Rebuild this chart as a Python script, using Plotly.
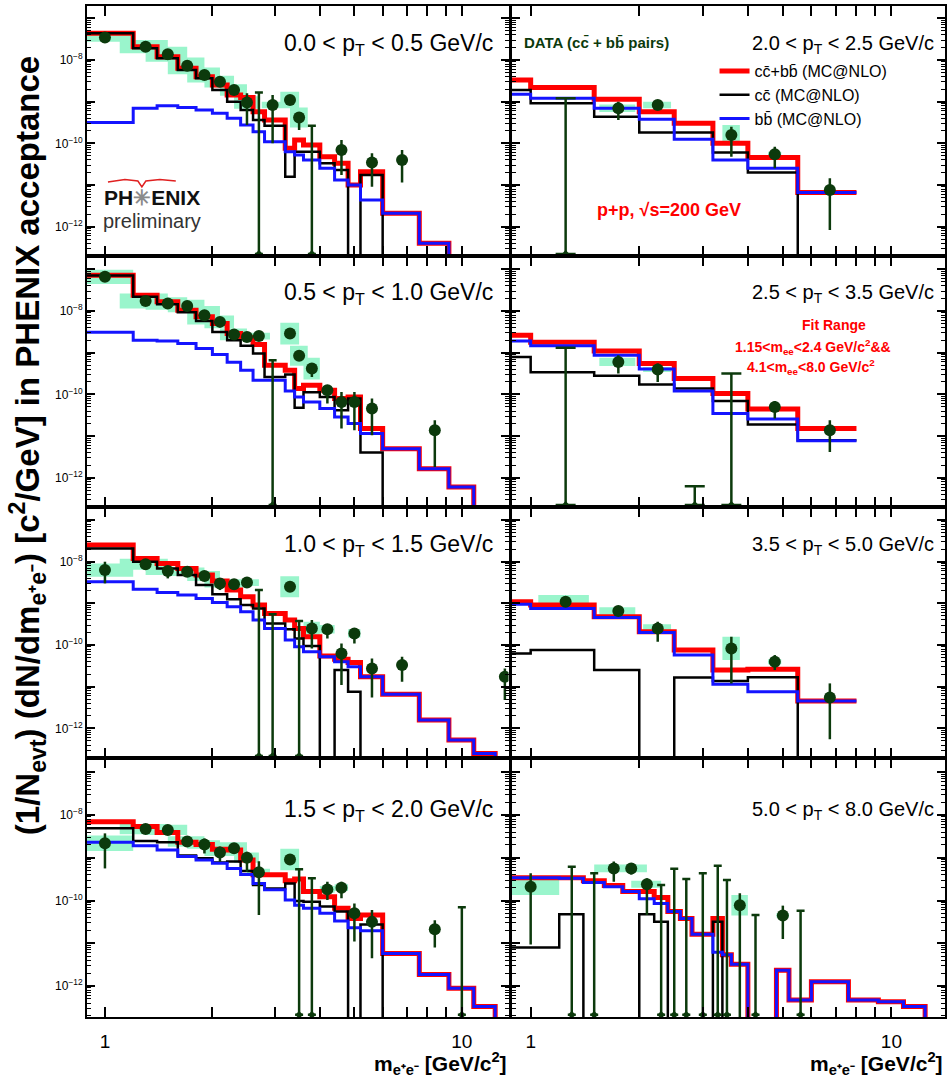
import plotly.graph_objects as go

# ---------------------------------------------------------------------------
# DATA  (all yields are given as log10 of the value)
# ---------------------------------------------------------------------------
fine_edges = [0.8, 1.2, 1.4, 1.6, 1.8, 2.0, 2.2, 2.4, 2.6, 2.8, 3.0, 3.2, 3.4, 3.6,
              4.0, 4.4, 4.8, 5.2, 6.0, 7.6, 9.2, 10.8, 12.4, 14.0]
coarse_edges = [0.8, 1.0, 1.5, 2.0, 2.5, 3.2, 4.0, 5.5, 8.0]
EMPTY = -14  # empty bin (drawn below the axis floor)

pt_labels = ["0.0 &lt; p<sub>T</sub> &lt; 0.5 GeV/c", "2.0 &lt; p<sub>T</sub> &lt; 2.5 GeV/c",
             "0.5 &lt; p<sub>T</sub> &lt; 1.0 GeV/c", "2.5 &lt; p<sub>T</sub> &lt; 3.5 GeV/c",
             "1.0 &lt; p<sub>T</sub> &lt; 1.5 GeV/c", "3.5 &lt; p<sub>T</sub> &lt; 5.0 GeV/c",
             "1.5 &lt; p<sub>T</sub> &lt; 2.0 GeV/c", "5.0 &lt; p<sub>T</sub> &lt; 8.0 GeV/c"]

legend_names = ["cc\u0304+bb\u0304 (MC@NLO)", "cc\u0304 (MC@NLO)", "bb\u0304 (MC@NLO)"]

y_tick_exp = [-13, -12, -11, -10, -9, -8, -7]
y_tick_text = ["", "10<sup>\u221212</sup>", "", "10<sup>\u221210</sup>", "", "10<sup>\u22128</sup>", ""]

# ---- 0.0 < pT < 0.5 (fine bins)
A_red = [-7.36, -7.68, -7.92, -8.2, -8.4, -8.6, -8.84, -8.9, -9.24, -9.44, -9.44, -10.12, -9.92,
         -10.04, -10.32, -10.48, -11.0, -10.68, -11.68, -12.4, EMPTY, EMPTY, EMPTY]
A_black = [-7.36, -7.72, -7.96, -8.24, -8.44, -8.72, -9.0, -9.2, -9.44, -9.58, -9.58, -10.8, -10.2,
           -10.2, -10.48, -10.64, EMPTY, -10.76, EMPTY, EMPTY, EMPTY, EMPTY, EMPTY]
A_blue = [-9.5, -9.16, -9.1, -9.14, -9.2, -9.28, -9.4, -9.56, -9.72, -9.96, -9.96, -10.2, -10.28,
          -10.4, -10.6, -10.88, -11.0, -11.36, -11.68, -12.4, EMPTY, EMPTY, EMPTY]
A_x = [1.0, 1.3, 1.5, 1.7, 1.9, 2.1, 2.3, 2.5, 2.95, 3.3, 3.5, 4.6, 5.6, 6.8]
A_y = [-7.46, -7.68, -7.86, -8.14, -8.36, -8.52, -8.72, -9.02, -9.08, -8.96, -9.38, -10.16, -10.46, -10.40]
A_hi = [-7.43, -7.65, -7.83, -8.10, -8.32, -8.48, -8.68, -8.80, -8.84, -8.92, -9.32, -9.92, -10.24, -10.16]
A_lo = [-7.49, -7.71, -7.89, -8.18, -8.40, -8.56, -8.76, -9.56, -10.0, -9.0, -9.68, -10.76, -11.04, -10.94]
A_sys = [0.10, 0.16, 0.18, 0.20, 0.18, 0.14, 0.14, 0.15, 0.08, 0.20, 0.24, 0, 0, 0]
A_lim_x = [2.7, 3.8]
A_lim_top = [-8.78, -9.58]

# ---- 2.0 < pT < 2.5 (coarse bins)
E_red = [-8.48, -8.66, -8.94, -9.24, -9.52, -10.0, -10.34, -11.18]
E_black = [-8.72, -9.04, -9.36, -9.74, -9.74, -10.22, -10.7, EMPTY]
E_blue = [-8.82, -8.92, -9.16, -9.42, -9.9, -10.4, -10.6, -11.18]
E_x = [1.75, 2.25, 3.6, 4.75, 6.75]
E_y = [-9.16, -9.08, -9.80, -10.26, -11.12]
E_hi = [-9.00, -8.98, -9.60, -10.08, -10.84]
E_lo = [-9.44, -9.20, -10.32, -10.60, -12.08]
E_sys = [0.09, 0.08, 0.24, 0.06, 0]
E_lim_x = [1.25]
E_lim_top = [-8.92]

# ---- 0.5 < pT < 1.0 (fine bins)
B_red = [-7.14, -7.62, -7.78, -7.98, -8.14, -8.3, -8.54, -8.64, -8.8, -9.3, -9.3, -9.42, -9.86,
         -9.78, -9.9, -10.1, -10.06, -10.82, -11.3, -11.78, -12.22, EMPTY, EMPTY]
B_black = [-7.15, -7.66, -7.84, -8.03, -8.24, -8.5, -8.7, -8.83, -9.02, -9.58, -9.58, -9.52, -10.32,
           -9.95, -10.06, -10.38, -10.1, -11.39, EMPTY, EMPTY, EMPTY, EMPTY, EMPTY]
B_blue = [-8.51, -8.7, -8.72, -8.78, -8.9, -9.04, -9.23, -9.42, -9.66, -9.66, -9.66, -9.92, -10.06,
          -10.18, -10.34, -10.54, -10.7, -10.94, -11.3, -11.78, -12.22, EMPTY, EMPTY]
B_x = [1.0, 1.3, 1.5, 1.7, 1.9, 2.1, 2.3, 2.5, 2.7, 3.3, 3.5, 3.8, 4.2, 4.6, 5.0, 5.6, 8.4]
B_y = [-7.18, -7.76, -7.82, -7.88, -8.10, -8.26, -8.56, -8.62, -8.60, -8.54, -9.07, -9.38, -9.90,
       -10.18, -10.18, -10.34, -10.86]
B_hi = [-7.15, -7.73, -7.79, -7.85, -8.07, -8.23, -8.53, -8.59, -8.57, -8.51, -9.04, -9.34, -9.78,
        -9.94, -9.94, -10.10, -10.62]
B_lo = [-7.21, -7.79, -7.85, -7.91, -8.13, -8.29, -8.59, -8.65, -8.63, -8.57, -9.10, -9.58, -10.22,
        -10.82, -10.86, -10.98, -11.74]
B_sys = [0.17, 0.18, 0.15, 0.15, 0.22, 0.15, 0.14, 0.10, 0.08, 0.26, 0.24, 0.26, 0, 0, 0, 0, 0]
B_lim_x = [2.95]
B_lim_top = [-9.18]

# ---- 2.5 < pT < 3.5 (coarse bins)
F_red = [-8.58, -8.75, -8.96, -9.26, -9.62, -9.98, -10.35, -10.82]
F_black = [-9.1, -9.47, -9.55, -9.76, -9.86, -10.16, -10.72, -11.1]
F_blue = [-8.72, -8.83, -9.06, -9.39, -9.92, -10.46, -10.59, -11.11]
F_x = [1.75, 2.25, 4.75, 6.75]
F_y = [-9.22, -9.40, -10.30, -10.86]
F_hi = [-9.06, -9.26, -10.16, -10.62]
F_lo = [-9.50, -9.70, -10.58, -11.38]
F_sys = [0.10, 0.06, 0, 0]
F_lim_x = [1.25, 2.85, 3.6]
F_lim_top = [-8.88, -12.2, -9.5]

# ---- 1.0 < pT < 1.5 (fine bins)
C_red = [-7.6, -7.92, -8.04, -8.16, -8.32, -8.46, -8.68, -8.84, -9.04, -9.24, -9.24, -9.4, -9.6,
         -9.8, -10.26, -10.34, -10.42, -10.76, -11.18, -11.8, -12.28, -12.6, EMPTY]
C_black = [-7.68, -8.0, -8.16, -8.32, -8.56, -8.78, -8.9, -9.04, -9.12, -9.48, -9.48, -9.62, -9.84,
           -10.02, EMPTY, -10.6, -11.12, EMPTY, EMPTY, EMPTY, EMPTY, EMPTY, EMPTY]
C_blue = [-8.48, -8.66, -8.74, -8.8, -8.88, -8.98, -9.08, -9.2, -9.4, -9.6, -9.6, -9.88, -10.04,
          -10.16, -10.28, -10.4, -10.52, -10.76, -11.18, -11.8, -12.28, -12.6, EMPTY]
C_x = [1.0, 1.3, 1.5, 1.7, 1.9, 2.1, 2.3, 2.5, 3.3, 3.8, 4.2, 4.6, 5.0, 5.6, 6.8, 13.2]
C_y = [-8.20, -8.06, -8.22, -8.24, -8.34, -8.52, -8.54, -8.50, -8.60, -9.60, -9.62, -10.20, -9.72,
       -10.56, -10.48, -10.76]
C_hi = [-8.00, -8.03, -8.12, -8.21, -8.31, -8.40, -8.51, -8.47, -8.57, -9.40, -9.52, -9.96, -9.60,
        -10.32, -10.28, -10.56]
C_lo = [-8.52, -8.09, -8.40, -8.27, -8.37, -8.68, -8.57, -8.53, -8.63, -10.08, -9.84, -10.96, -9.96,
        -11.26, -10.88, -11.32]
C_sys = [0.16, 0.13, 0.10, 0.10, 0.12, 0.10, 0.08, 0.08, 0.25, 0.16, 0.10, 0, 0.10, 0, 0, 0.05]
C_lim_x = [2.7, 2.95, 3.5]
C_lim_top = [-8.68, -9.26, -9.42]

# ---- 3.5 < pT < 5.0 (coarse bins)
G_red = [-8.96, -9.04, -9.32, -9.68, -10.12, -10.6, -10.58, -11.34]
G_black = [-10.2, -10.12, -10.6, EMPTY, -10.78, -10.86, -10.77, EMPTY]
G_blue = [-9.02, -9.12, -9.34, -9.7, -10.24, -10.94, -11.12, -11.34]
G_x = [1.25, 1.75, 2.25, 3.6, 4.75, 6.75]
G_y = [-8.96, -9.18, -9.60, -10.08, -10.40, -11.26]
G_hi = [-8.92, -9.14, -9.44, -9.80, -10.24, -10.92]
G_lo = [-9.00, -9.22, -9.92, -10.92, -10.60, -12.26]
G_sys = [0.16, 0.09, 0.10, 0.28, 0.06, 0]
G_lim_x = []
G_lim_top = []

# ---- 1.5 < pT < 2.0 (fine bins)
D_red = [-8.16, -8.27, -8.41, -8.64, -8.69, -8.8, -8.82, -9.05, -9.4, -9.4, -9.4, -9.54, -9.5,
         -9.79, -9.91, -10.18, -10.42, -10.34, -11.24, -11.73, -12.05, -12.48, EMPTY]
D_black = [-8.31, -8.61, -8.64, -8.95, -9.01, -9.11, -9.09, -9.31, -9.64, -9.72, -9.72, -9.6, -10.01,
           -10.03, -10.14, -10.26, EMPTY, -10.56, EMPTY, EMPTY, EMPTY, EMPTY, EMPTY]
D_blue = [-8.64, -8.72, -8.82, -8.97, -9.05, -9.13, -9.25, -9.39, -9.6, -9.75, -9.75, -9.99, -10.11,
          -10.18, -10.3, -10.48, -10.64, -10.71, -11.24, -11.73, -12.05, -12.48, EMPTY]
D_x = [1.0, 1.3, 1.5, 1.7, 1.9, 2.1, 2.3, 2.5, 2.7, 3.3, 4.2, 4.6, 5.0, 5.6, 8.4]
D_y = [-8.66, -8.33, -8.35, -8.62, -8.69, -8.88, -8.78, -9.00, -9.34, -9.04, -9.74, -9.70, -10.30,
       -10.50, -10.67]
D_hi = [-8.43, -8.30, -8.32, -8.59, -8.55, -8.74, -8.75, -8.86, -9.08, -9.01, -9.56, -9.56, -10.07,
        -10.22, -10.46]
D_lo = [-9.25, -8.36, -8.38, -8.65, -8.90, -9.09, -8.81, -9.33, -10.34, -9.07, -9.99, -9.95, -10.96,
        -11.35, -11.10]
D_sys = [0.18, 0.12, 0.12, 0.12, 0.10, 0.08, 0.14, 0.12, 0.08, 0.25, 0.08, 0.08, 0, 0, 0]
D_lim_x = [3.5, 3.8, 10.0]
D_lim_top = [-9.27, -9.48, -10.16]

# ---- 5.0 < pT < 8.0 (fine bins)
H_red = [-9.47, -9.47, -9.54, -9.65, -9.79, -9.79, -9.93, -10.26, -10.42, -10.79, -10.79, -10.42,
         -11.27, -11.49, EMPTY, EMPTY, -11.63, -12.33, -11.9, -12.33, -12.37, -12.48, EMPTY]
H_black = [-11.1, -10.32, EMPTY, EMPTY, EMPTY, -10.32, -10.5, EMPTY, EMPTY, EMPTY, EMPTY, -10.5,
           EMPTY, EMPTY, EMPTY, EMPTY, EMPTY, EMPTY, EMPTY, EMPTY, EMPTY, EMPTY, EMPTY]
H_blue = [-9.47, -9.48, -9.58, -9.68, -9.79, -9.96, -10.07, -10.26, -10.42, -10.79, -10.79, -11.21,
          -11.27, -11.49, EMPTY, EMPTY, -11.63, -12.33, -11.9, -12.33, -12.37, -12.48, EMPTY]
H_x = [1.0, 1.7, 1.9, 2.1, 3.8, 5.0]
H_y = [-9.68, -9.25, -9.25, -9.62, -10.11, -10.35]
H_hi = [-9.36, -9.09, -9.13, -9.48, -9.83, -10.12]
H_lo = [-11.03, -9.56, -9.39, -10.34, -13.0, -10.90]
H_sys = [0.19, 0.09, 0.09, 0.08, 0.24, 0.05]
H_lim_x = [1.3, 1.5, 2.3, 2.5, 2.7, 3.0, 3.3, 3.5, 4.2, 5.6]
H_lim_top = [-9.21, -9.36, -9.64, -9.26, -9.50, -9.36, -9.19, -9.52, -10.34, -10.24]

# ---------------------------------------------------------------------------
# LAYOUT GEOMETRY
# ---------------------------------------------------------------------------
FIG_W, FIG_H = 947, 1081
ML, MT, MB = 87, 6, 64
PLOT_W = FIG_W - ML
PLOT_H = FIG_H - MT - MB


def px_x(px):
    return (px - ML) / PLOT_W


def px_y(py):
    return (FIG_H - MB - py) / PLOT_H


row_px = [(6, 256), (256, 507), (507, 758), (758, 1017)]
row_dom = [[px_y(b), px_y(t)] for t, b in row_px]
row_rng = [[-12.704, -6.704], [-12.70, -6.68], [-12.71, -6.687], [-12.725, -6.667]]
col_dom = [[0, px_x(509.5)], [px_x(512.5), 1.0]]
col_rng = [[-0.0503, 1.1308], [-0.0531, 1.1485]]

RED, BLACK, BLUE = "#ff0000", "#000000", "#1414ff"
GREEN = "#0c3a0c"
BAND = "#9af5cc"
FONT = "Liberation Sans, Arial, Helvetica, sans-serif"

panels = [
    (A_red, A_black, A_blue, A_x, A_y, A_hi, A_lo, A_sys, A_lim_x, A_lim_top, fine_edges),
    (E_red, E_black, E_blue, E_x, E_y, E_hi, E_lo, E_sys, E_lim_x, E_lim_top, coarse_edges),
    (B_red, B_black, B_blue, B_x, B_y, B_hi, B_lo, B_sys, B_lim_x, B_lim_top, fine_edges),
    (F_red, F_black, F_blue, F_x, F_y, F_hi, F_lo, F_sys, F_lim_x, F_lim_top, coarse_edges),
    (C_red, C_black, C_blue, C_x, C_y, C_hi, C_lo, C_sys, C_lim_x, C_lim_top, fine_edges),
    (G_red, G_black, G_blue, G_x, G_y, G_hi, G_lo, G_sys, G_lim_x, G_lim_top, coarse_edges),
    (D_red, D_black, D_blue, D_x, D_y, D_hi, D_lo, D_sys, D_lim_x, D_lim_top, fine_edges),
    (H_red, H_black, H_blue, H_x, H_y, H_hi, H_lo, H_sys, H_lim_x, H_lim_top, fine_edges),
]

fig = go.Figure()
layout_axes = {}
annotations = []
major_y = [10.0 ** e for e in y_tick_exp]
minor_y = [m * 10.0 ** e for e in range(-13, -6) for m in range(2, 10)]

for k, (red, black, blue, dx, dy, dhi, dlo, dsys, lx, ltop, edges) in enumerate(panels):
    row, col = divmod(k, 2)
    n = k + 1
    xa = "x" if n == 1 else f"x{n}"
    ya = "y" if n == 1 else f"y{n}"

    # systematic bands
    bx, by = [], []
    for x, y, s in zip(dx, dy, dsys):
        if s <= 0:
            continue
        x0, x1 = x - 0.2, x + 0.2
        y0, y1 = 10 ** (y - s), 10 ** (y + s)
        bx += [x0, x1, x1, x0, x0, None]
        by += [y0, y0, y1, y1, y0, None]
    if bx:
        fig.add_trace(go.Scatter(x=bx, y=by, mode="lines", fill="toself", fillcolor=BAND,
                                 line=dict(width=0, color=BAND), hoverinfo="skip",
                                 showlegend=False, xaxis=xa, yaxis=ya))

    # MC@NLO histograms
    for vals, color, width, name in [
        (red, RED, 5, legend_names[0]),
        (black, BLACK, 2.5, legend_names[1]),
        (blue, BLUE, 3, legend_names[2]),
    ]:
        xs = [edges[0]] + list(edges)
        ys = [10 ** EMPTY] + [10 ** v for v in vals] + [10 ** vals[-1]]
        fig.add_trace(go.Scatter(x=xs, y=ys, mode="lines", line=dict(color=color, width=width, shape="hv"),
                                 name=name, showlegend=(k == 1), xaxis=xa, yaxis=ya))

    # data points
    yv = [10 ** v for v in dy]
    ehi = [10 ** h - 10 ** v for h, v in zip(dhi, dy)]
    elo = [10 ** v - 10 ** l for l, v in zip(dlo, dy)]
    fig.add_trace(go.Scatter(x=dx, y=yv, mode="markers",
                             marker=dict(color=GREEN, size=12, symbol="circle"),
                             error_y=dict(type="data", symmetric=False, array=ehi, arrayminus=elo,
                                          color=GREEN, thickness=2.5, width=0),
                             showlegend=False, xaxis=xa, yaxis=ya))

    # points compatible with zero: bar from the floor up to the upper error
    if lx:
        base = 10 ** (row_rng[row][0] + 0.05)
        fig.add_trace(go.Scatter(x=lx, y=[base] * len(lx), mode="markers",
                                 marker=dict(color=GREEN, size=6, symbol="diamond"),
                                 error_y=dict(type="data", symmetric=False,
                                              array=[10 ** t - base for t in ltop],
                                              arrayminus=[0] * len(lx), color=GREEN,
                                              thickness=2.5, width=(10 if edges is coarse_edges else 4)),
                                 showlegend=False, xaxis=xa, yaxis=ya))

    # axes
    bottom = row == 3
    xkey = "xaxis" if n == 1 else f"xaxis{n}"
    ykey = "yaxis" if n == 1 else f"yaxis{n}"
    layout_axes[xkey] = dict(
        type="log", range=col_rng[col], domain=col_dom[col], anchor=ya,
        showline=True, linecolor="black", linewidth=2, mirror="ticks",
        ticks="inside", ticklen=10, tickwidth=1.5, tickcolor="black",
        tickmode="array", tickvals=[1, 10], ticktext=["1", "10"],
        minor=dict(ticks="inside", ticklen=10, tickwidth=1.5, tickcolor="black",
                   tickvals=[2, 3, 4, 5, 6, 7, 8, 9, 20]),
        showticklabels=bottom, tickfont=dict(size=19, family=FONT, color="black"),
        ticklabelstandoff=6, showgrid=False, zeroline=False)
    layout_axes[ykey] = dict(
        type="log", range=row_rng[row], domain=row_dom[row], anchor=xa,
        showline=True, linecolor="black", linewidth=2, mirror="ticks",
        ticks="inside", ticklen=8, tickwidth=1.5, tickcolor="black",
        tickmode="array", tickvals=major_y, ticktext=y_tick_text,
        minor=dict(ticks="inside", ticklen=4, tickwidth=1, tickcolor="black", tickvals=minor_y),
        showticklabels=(col == 0), tickfont=dict(size=12, family=FONT, color="black"),
        showgrid=False, zeroline=False)

    # pT bin label
    top_px = row_px[row][0]
    yc = top_px + (38 if row < 3 else 52)
    annotations.append(dict(
        text=pt_labels[k], xref="paper", yref="paper",
        x=px_x(496 if col == 0 else 938), y=px_y(yc), xanchor="right", yanchor="middle",
        showarrow=False, font=dict(size=(23 if col == 0 else 20), family=FONT, color="black")))

# x-axis titles
for xr in (510, 947):
    annotations.append(dict(
        text="<b>m<sub>e\u207ae\u207b</sub> [GeV/c<sup>2</sup>]</b>", xref="paper", yref="paper",
        x=px_x(xr), y=px_y(1063), xanchor="right", yanchor="middle", showarrow=False,
        font=dict(size=21, family=FONT, color="black")))

# y-axis title
annotations.append(dict(
    text="<b>(1/N<sub>evt</sub>) (dN/dm<sub>e\u207ae\u207b</sub>) [c<sup>2</sup>/GeV] in PHENIX acceptance</b>",
    xref="paper", yref="paper", x=px_x(28), y=px_y(446), xanchor="center", yanchor="middle",
    textangle=-90, showarrow=False, font=dict(size=33, family=FONT, color="black")))

# panel texts
annotations += [
    dict(text="<b>DATA (cc\u0304 + bb\u0304 pairs)</b>", x=px_x(523), y=px_y(42), xanchor="left",
         yanchor="middle", font=dict(size=15, family=FONT, color=GREEN)),
    dict(text="<b>p+p, \u221as=200 GeV</b>", x=px_x(670), y=px_y(210), xanchor="center",
         yanchor="middle", font=dict(size=18, family=FONT, color=RED)),
    dict(text="<b>Fit Range</b>", x=px_x(836), y=px_y(325), xanchor="center", yanchor="middle",
         font=dict(size=14, family=FONT, color=RED)),
    dict(text="<b>1.15&lt;m<sub>ee</sub>&lt;2.4 GeV/c<sup>2</sup>&amp;&amp;</b>", x=px_x(815), y=px_y(347),
         xanchor="center", yanchor="middle", font=dict(size=14, family=FONT, color=RED)),
    dict(text="<b>4.1&lt;m<sub>ee</sub>&lt;8.0 GeV/c<sup>2</sup></b>", x=px_x(813), y=px_y(367),
         xanchor="center", yanchor="middle", font=dict(size=14, family=FONT, color=RED)),
    # PHENIX preliminary logo
    dict(text="<b>PH<span style='color:#8a8a8a'>\u2733</span>ENIX</b>", x=px_x(102), y=px_y(197),
         xanchor="left", yanchor="middle", font=dict(size=21, family=FONT, color="#111111")),
    dict(text="preliminary", x=px_x(101), y=px_y(221), xanchor="left", yanchor="middle",
         font=dict(size=20, family=FONT, color="#333333")),
]
for a in annotations:
    a.setdefault("xref", "paper")
    a.setdefault("yref", "paper")
    a.setdefault("showarrow", False)

arc = [(108, 182), (125, 179.5), (138, 181), (142, 187), (146, 181), (160, 179.5), (176, 181)]
arc_path = "M " + " L ".join(f"{px_x(x):.5f},{px_y(y):.5f}" for x, y in arc)

fig.update_layout(
    width=FIG_W, height=FIG_H,
    margin=dict(l=ML, r=0, t=MT, b=MB, pad=0),
    paper_bgcolor="white", plot_bgcolor="white",
    font=dict(family=FONT, color="black"),
    showlegend=True,
    legend=dict(x=px_x(716), y=px_y(54), xanchor="left", yanchor="top",
                bgcolor="rgba(0,0,0,0)", font=dict(size=16, family=FONT, color="black"),
                tracegroupgap=0, itemwidth=30),
    annotations=annotations,
    shapes=[dict(type="path", path=arc_path, xref="paper", yref="paper",
                 line=dict(color="#e02020", width=1.5))],
    **layout_axes,
)

fig.write_html("out.html", config={"displayModeBar": False},
               post_script="document.body.style.margin='0px';")
